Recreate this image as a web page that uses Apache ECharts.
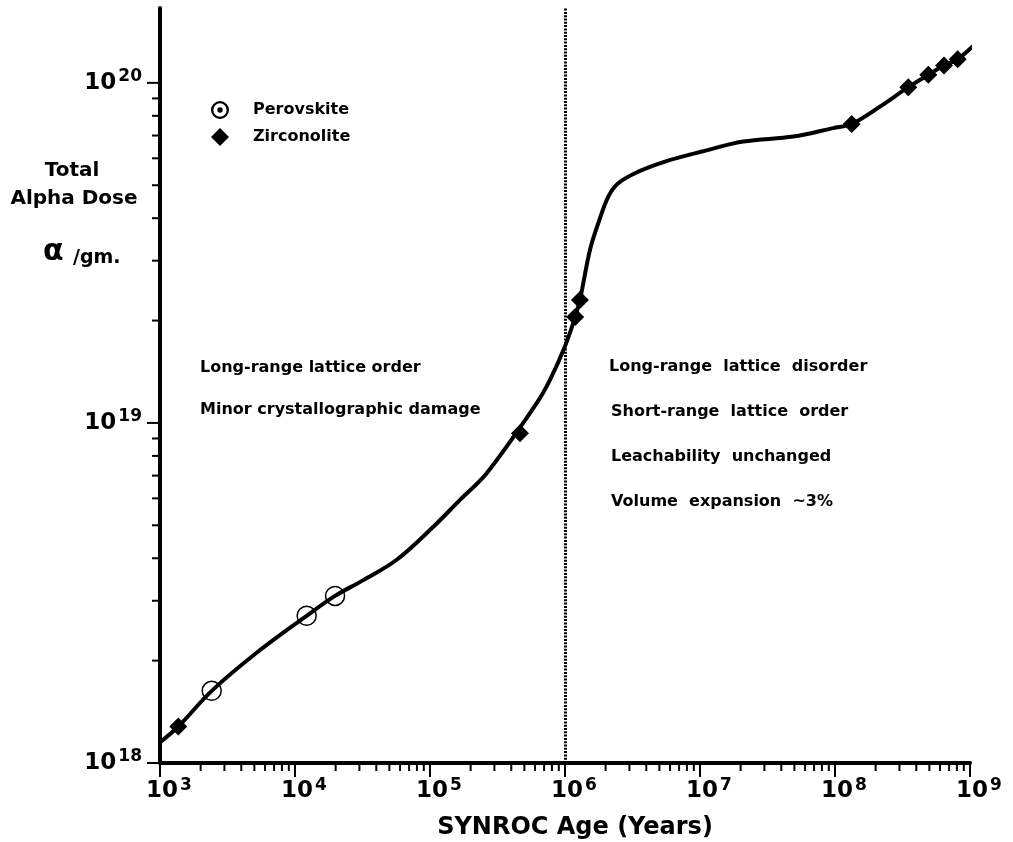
<!DOCTYPE html>
<html><head><meta charset="utf-8">
<script src="https://cdn.jsdelivr.net/npm/echarts@6/dist/echarts.min.js"></script>
<style>html,body{margin:0;padding:0;background:#fff}#main{width:1013px;height:842px}</style>
</head><body><div id="main"></div>
<script>
// ---- data ----
const curveAge  = [1000, 1366, 2415, 5200, 12200, 19800, 32100, 56700, 1.058e5, 1.668e5, 2.63e5, 6.17e5, 7.74e5, 1.0e6, 1.19e6, 1.29e6, 1.532e6, 1.765e6, 2.093e6, 2.48e6, 3.49e6, 5.51e6, 1.03e7, 2.09e7, 4.91e7, 9.71e7, 1.33e8, 2.15e8, 3.49e8, 4.91e8, 6.42e8, 8.11e8, 1.12e9];
const curveDose = [1.15e18, 1.28e18, 1.63e18, 2.11e18, 2.71e18, 3.1e18, 3.45e18, 3.96e18, 4.95e18, 5.94e18, 7.11e18, 1.143e19, 1.338e19, 1.68e19, 2.05e19, 2.30e19, 3.23e19, 3.87e19, 4.63e19, 5.07e19, 5.48e19, 5.87e19, 6.28e19, 6.72e19, 6.95e19, 7.36e19, 7.57e19, 8.51e19, 9.71e19, 1.056e20, 1.124e20, 1.174e20, 1.314e20];

const perovskiteAge  = [2415, 12200, 19800];
const perovskiteDose = [1.63e18, 2.71e18, 3.1e18];

const zirconoliteAge  = [1366, 4.64e5, 1.19e6, 1.29e6, 1.33e8, 3.49e8, 4.91e8, 6.42e8, 8.11e8];
const zirconoliteDose = [1.28e18, 9.33e18, 2.05e19, 2.30e19, 7.57e19, 9.71e19, 1.056e20, 1.124e20, 1.174e20];

const boundaryAge = 1e6;

const xMin = 1e3, xMax = 1e9;
const yMin = 1e18, yMax = 1.66e20;
const xDecades = [1e3, 1e4, 1e5, 1e6, 1e7, 1e8, 1e9];
const yDecades = [1e18, 1e19, 1e20];
const minorSteps = [2, 3, 4, 5, 6, 7, 8, 9];

const leftNotes  = ['Long-range lattice order', 'Minor crystallographic damage'];
const rightNotes = ['Long-range  lattice  disorder', 'Short-range  lattice  order', 'Leachability  unchanged', 'Volume  expansion  ~3%'];
const yTitle = ['Total', 'Alpha Dose'];
const xTitle = 'SYNROC Age (Years)';
const seriesNames = ['Perovskite', 'Zirconolite'];

// ---- build tick lists ----
const xTicks = [], yTicks = [];
xDecades.forEach((d, i) => {
  xTicks.push([d, yMin, 1]);
  if (i < xDecades.length - 1) minorSteps.forEach(m => xTicks.push([d * m, yMin, 0]));
});
yDecades.forEach(d => {
  yTicks.push([xMin, d, 1]);
  minorSteps.forEach(m => { if (d * m <= yMax) yTicks.push([xMin, d * m, 0]); });
});

const FF = '"DejaVu Sans"';
const F = s => 'bold ' + s + 'px ' + FF;

function expLabel(v) {
  const l = Math.log10(v), e = Math.round(l);
  if (Math.abs(l - e) > 1e-6) return '';
  return '{b|10}{s|' + e + '}';
}
const richLab = {
  b: {fontFamily: FF, fontWeight: 'bold', fontSize: 23, color: '#000'},
  s: {fontFamily: FF, fontWeight: 'bold', fontSize: 17, color: '#000', padding: [0, 0, 12, 2]}
};

const ringDot = 'path://M50,0 A50,50 0 1,1 50,100 A50,50 0 1,1 50,0 Z M50,13 A37,37 0 1,0 50,87 A37,37 0 1,0 50,13 Z M50,35 A15,15 0 1,1 50,65 A15,15 0 1,1 50,35 Z';

const chart = echarts.init(document.getElementById('main'), null, {renderer: 'canvas'});
chart.setOption({
  backgroundColor: '#fff',
  animation: false,
  grid: {left: 160, right: 43, top: 8, bottom: 79, containLabel: false, outerBoundsMode: 'none'},
  xAxis: {
    type: 'log', logBase: 10, min: xMin, max: xMax,
    axisLine: {show: true, lineStyle: {color: '#000', width: 4}},
    axisTick: {show: false}, splitLine: {show: false}, minorTick: {show: false},
    axisLabel: {formatter: expLabel, margin: 14, padding: [0, 0, 0, 18], rich: richLab},
    name: xTitle, nameLocation: 'middle', nameGap: 53,
    nameTextStyle: {fontFamily: FF, fontWeight: 'bold', fontSize: 24, color: '#000', padding: [0, 0, 0, 20]}
  },
  yAxis: {
    type: 'log', logBase: 10, min: yMin, max: yMax,
    axisLine: {show: true, lineStyle: {color: '#000', width: 4}},
    axisTick: {show: false}, splitLine: {show: false}, minorTick: {show: false},
    axisLabel: {formatter: expLabel, margin: 18, rich: richLab, showMaxLabel: false}
  },
  legend: {
    orient: 'vertical', left: 206, top: 96, itemWidth: 18, itemHeight: 18, itemGap: 9,
    selectedMode: false,
    textStyle: {fontFamily: FF, fontWeight: 'bold', fontSize: 16, color: '#000', padding: [0, 0, 0, 19]},
    data: [
      {name: seriesNames[0], icon: ringDot, itemStyle: {color: '#000', borderWidth: 0, opacity: 1}},
      {name: seriesNames[1], icon: 'diamond', itemStyle: {color: '#000', borderWidth: 0, opacity: 1}}
    ]
  },
  graphic: [
    {type: 'text', x: 72, y: 171, style: {text: yTitle[0], font: F(20), fill: '#000', align: 'center', verticalAlign: 'middle'}},
    {type: 'text', x: 74, y: 199, style: {text: yTitle[1], font: F(20), fill: '#000', align: 'center', verticalAlign: 'middle'}},
    {type: 'text', x: 43, y: 252, style: {text: 'α', font: F(30), fill: '#000', align: 'left', verticalAlign: 'middle'}},
    {type: 'text', x: 73, y: 258, style: {text: '/gm.', font: F(19), fill: '#000', align: 'left', verticalAlign: 'middle'}},
    {type: 'text', x: 200, y: 368, style: {text: leftNotes[0], font: F(16), fill: '#000', align: 'left', verticalAlign: 'middle'}},
    {type: 'text', x: 200, y: 410, style: {text: leftNotes[1], font: F(16), fill: '#000', align: 'left', verticalAlign: 'middle'}},
    {type: 'text', x: 609, y: 367, style: {text: rightNotes[0], font: F(16), fill: '#000', align: 'left', verticalAlign: 'middle'}},
    {type: 'text', x: 611, y: 412, style: {text: rightNotes[1], font: F(16), fill: '#000', align: 'left', verticalAlign: 'middle'}},
    {type: 'text', x: 611, y: 457, style: {text: rightNotes[2], font: F(16), fill: '#000', align: 'left', verticalAlign: 'middle'}},
    {type: 'text', x: 611, y: 502, style: {text: rightNotes[3], font: F(16), fill: '#000', align: 'left', verticalAlign: 'middle'}}
  ],
  series: [
    {
      type: 'custom', name: 'xticks', silent: true, clip: false, z: 1,
      data: xTicks,
      renderItem: (params, api) => {
        const p = api.coord([api.value(0), api.value(1)]);
        const len = api.value(2) ? 14 : 8;
        return {type: 'line', shape: {x1: p[0], y1: p[1], x2: p[0], y2: p[1] + len}, style: {stroke: '#000', lineWidth: 2}};
      }
    },
    {
      type: 'custom', name: 'yticks', silent: true, clip: false, z: 1,
      data: yTicks,
      renderItem: (params, api) => {
        const p = api.coord([api.value(0), api.value(1)]);
        const len = api.value(2) ? 13 : 8;
        return {type: 'line', shape: {x1: p[0], y1: p[1], x2: p[0] - len, y2: p[1]}, style: {stroke: '#000', lineWidth: 2}};
      }
    },
    {
      type: 'line', name: 'curve', silent: true, clip: false,
      data: curveAge.map((a, i) => [a, curveDose[i]]),
      smooth: 0.35, showSymbol: false, symbol: 'none',
      lineStyle: {color: '#000', width: 4, opacity: 1},
      markLine: {
        silent: true, symbol: ['none', 'none'], label: {show: false},
        lineStyle: {color: '#000', width: 3, type: [2, 1.3], opacity: 1},
        data: [{xAxis: boundaryAge}]
      }
    },
    {
      type: 'scatter', name: seriesNames[0], silent: true,
      data: perovskiteAge.map((a, i) => [a, perovskiteDose[i]]),
      symbol: 'circle', symbolSize: 19,
      itemStyle: {color: 'rgba(0,0,0,0)', borderColor: '#000', borderWidth: 1.5, opacity: 1}
    },
    {
      type: 'scatter', name: seriesNames[1], silent: true,
      data: zirconoliteAge.map((a, i) => [a, zirconoliteDose[i]]),
      symbol: 'diamond', symbolSize: 18,
      itemStyle: {color: '#000', opacity: 1}
    }
  ]
});
</script>
</body></html>
